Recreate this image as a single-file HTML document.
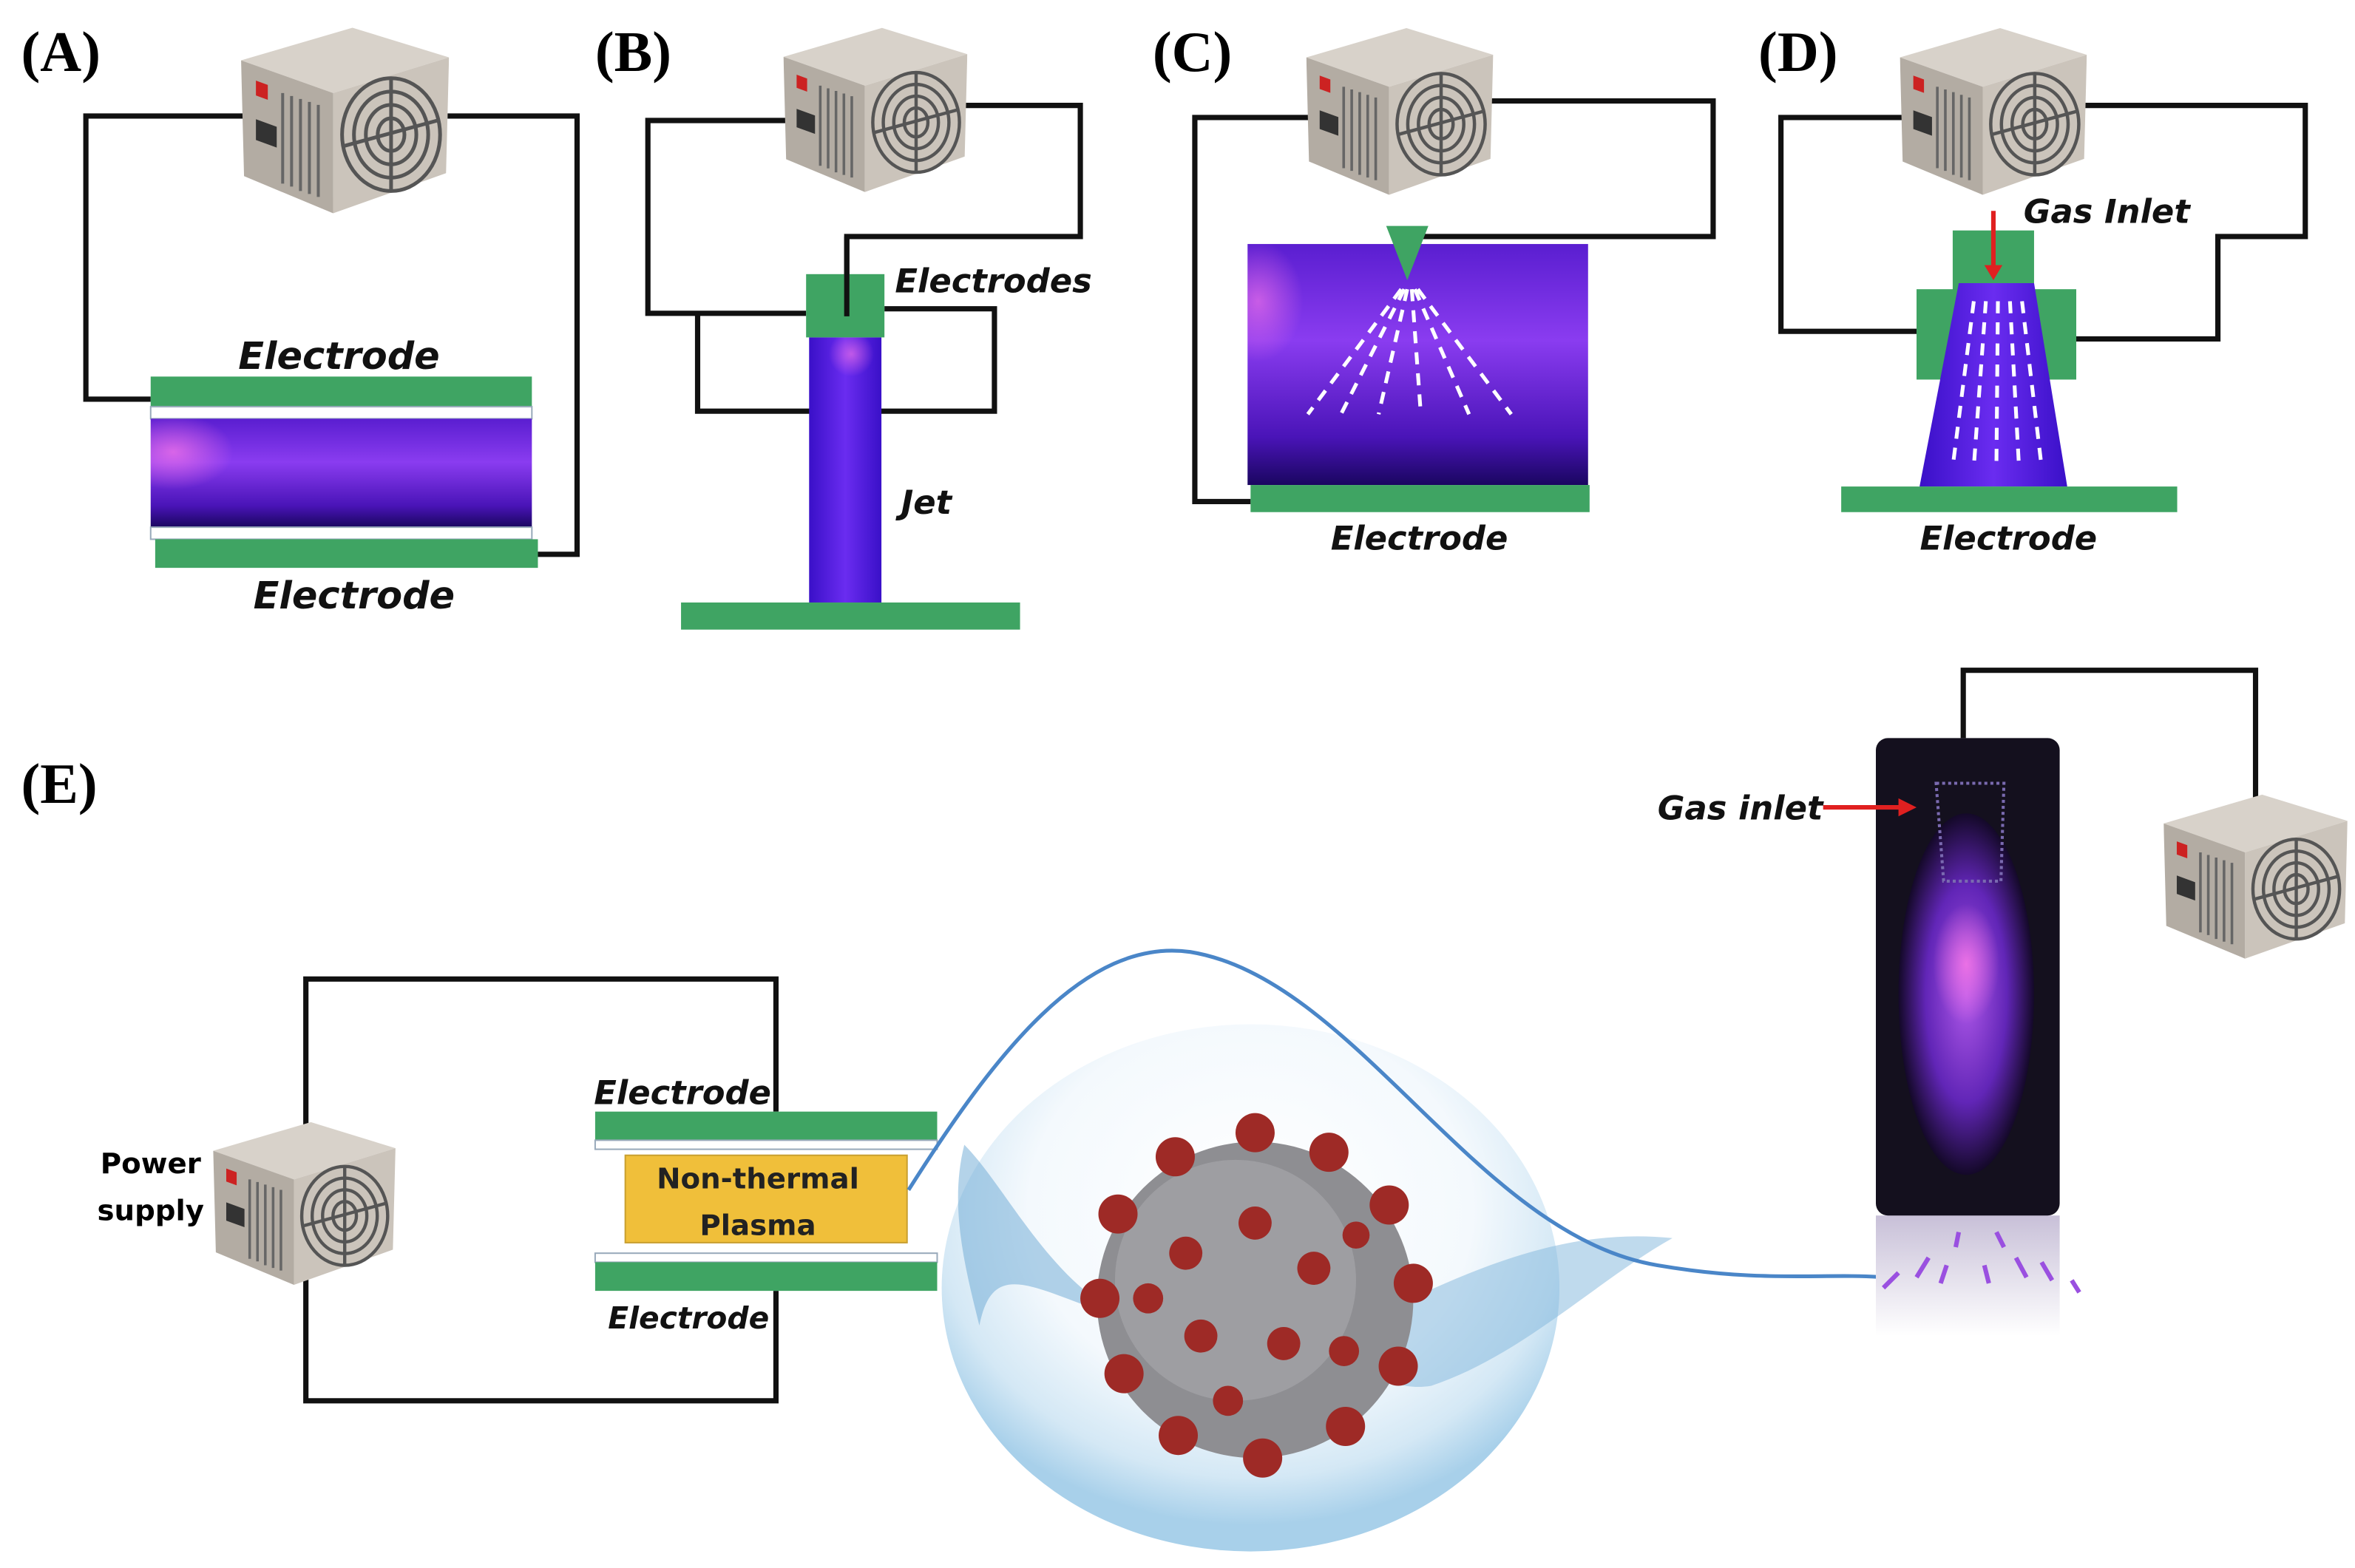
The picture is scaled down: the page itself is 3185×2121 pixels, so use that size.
<!DOCTYPE html>
<html><head><meta charset="utf-8"><style>
html,body{margin:0;padding:0;background:#fff}
svg{display:block}
.lab{font-family:"Liberation Serif",serif;font-weight:bold;font-size:38px}
.t{font-family:"DejaVu Sans","Liberation Sans",sans-serif;font-weight:bold;font-style:italic;fill:#111}
</style></head><body>
<svg width="3185" height="2121" viewBox="0 0 1563 1041" preserveAspectRatio="none" xmlns="http://www.w3.org/2000/svg">
<defs>
<symbol id="psu" viewBox="0 0 140 125">
<polygon points="0,22 75,0 140,20 62,44" fill="#d8d2ca"/>
<polygon points="0,22 62,44 62,125 2,100" fill="#b3aca3"/>
<polygon points="62,44 140,20 138,98 62,125" fill="#cbc4bb"/>
<rect x="10" y="32" width="8" height="10" fill="#c22" transform="skewY(20)"/>
<rect x="10" y="68" width="14" height="14" fill="#333" transform="skewY(20) translate(0,-10)"/>
<g stroke="#666" stroke-width="2">
<line x1="28" y1="44" x2="28" y2="105"/><line x1="34" y1="46" x2="34" y2="107"/><line x1="40" y1="48" x2="40" y2="110"/><line x1="46" y1="50" x2="46" y2="112"/><line x1="52" y1="52" x2="52" y2="114"/>
</g>
<g fill="none" stroke="#555" stroke-width="2.5">
<ellipse cx="101" cy="72" rx="33" ry="38"/><ellipse cx="101" cy="72" rx="25" ry="29"/><ellipse cx="101" cy="72" rx="17" ry="20"/><ellipse cx="101" cy="72" rx="9" ry="11"/>
<line x1="68" y1="80" x2="134" y2="62"/><line x1="101" y1="34" x2="101" y2="110"/>
</g>
</symbol>
<linearGradient id="pl" x1="0" y1="0" x2="0" y2="1">
<stop offset="0" stop-color="#5a1ed0"/><stop offset=".4" stop-color="#8a3cf0"/><stop offset=".8" stop-color="#4a14b8"/><stop offset="1" stop-color="#1a0660"/></linearGradient>
<linearGradient id="plh" x1="0" y1="0" x2="1" y2="0">
<stop offset="0" stop-color="#3a10c8"/><stop offset=".5" stop-color="#6a2cf0"/><stop offset="1" stop-color="#3a10c8"/></linearGradient>
<radialGradient id="glow" cx=".5" cy=".5" r=".5"><stop offset="0" stop-color="#ff7ae8"/><stop offset="1" stop-color="#ff7ae8" stop-opacity="0"/></radialGradient>
<radialGradient id="bub" cx=".5" cy=".35" r=".6"><stop offset="0" stop-color="#fff"/><stop offset=".6" stop-color="#f4f9fd"/><stop offset=".85" stop-color="#d4e8f5"/><stop offset="1" stop-color="#a8d0ea"/></radialGradient>
<radialGradient id="jetg" cx=".5" cy=".5" r=".5"><stop offset="0" stop-color="#c060ff"/><stop offset=".6" stop-color="#6a28c8"/><stop offset="1" stop-color="#14082a"/></radialGradient>
<linearGradient id="refl" x1="0" y1="0" x2="0" y2="1"><stop offset="0" stop-color="#c8c0d8"/><stop offset="1" stop-color="#fff"/></linearGradient>
<clipPath id="cA"><rect x="100" y="278" width="253" height="72"/></clipPath>
<clipPath id="cC"><rect x="828" y="162" width="226" height="160"/></clipPath>
</defs>
<rect width="1563" height="1041" fill="#fff"/>
<g fill="none" stroke="#111" stroke-width="3.5">
<polyline points="165,77 57,77 57,265 100,265"/>
<polyline points="297,77 383,77 383,368 357,368"/>
<polyline points="525,80 430,80 430,208 535,208"/>
<polyline points="463,208 463,273 660,273 660,205 587,205"/>
<polyline points="640,70 717,70 717,157 562,157 562,210"/>
<polyline points="872,78 793,78 793,333 830,333"/>
<polyline points="990,67 1137,67 1137,157 940,157 940,162"/>
<polyline points="1265,78 1182,78 1182,220 1272,220"/>
<polyline points="1383,70 1530,70 1530,157 1472,157 1472,225 1378,225"/>
<polyline points="203,748 203,650 515,650 515,738"/>
<polyline points="203,845 203,930 515,930 515,857"/>
<polyline points="1303,490 1303,445 1497,445 1497,532"/>
</g>
<text class="lab" x="14" y="47">(A)</text>
<text class="lab" x="395" y="47">(B)</text>
<text class="lab" x="765" y="47">(C)</text>
<text class="lab" x="1167" y="47">(D)</text>
<text class="lab" x="14" y="533">(E)</text>
<use href="#psu" x="160" y="18" width="138" height="124"/>
<use href="#psu" x="520" y="18" width="122" height="110"/>
<use href="#psu" x="867" y="18" width="124" height="112"/>
<use href="#psu" x="1261" y="18" width="124" height="112"/>
<use href="#psu" x="140" y="745" width="124" height="108"/>
<use href="#psu" x="1436" y="527" width="122" height="110"/>
<!-- A -->
<rect x="100" y="250" width="253" height="20" fill="#3fa463"/>
<rect x="100" y="270" width="253" height="8" fill="#fff" stroke="#9ab" stroke-width="1"/>
<rect x="100" y="278" width="253" height="72" fill="url(#pl)"/>
<ellipse cx="115" cy="300" rx="40" ry="25" fill="url(#glow)" opacity=".7" clip-path="url(#cA)"/>
<rect x="100" y="350" width="253" height="8" fill="#fff" stroke="#9ab" stroke-width="1"/>
<rect x="103" y="358" width="254" height="19" fill="#3fa463"/>
<text class="t" x="225" y="245" font-size="25" text-anchor="middle">Electrode</text>
<text class="t" x="235" y="404" font-size="25" text-anchor="middle">Electrode</text>
<!-- B -->
<rect x="537" y="224" width="48" height="176" fill="url(#plh)"/>
<ellipse cx="565" cy="235" rx="15" ry="15" fill="url(#glow)" opacity=".6"/>
<rect x="535" y="182" width="52" height="42" fill="#3fa463"/>
<line x1="562" y1="157" x2="562" y2="210" stroke="#111" stroke-width="3.5"/>
<rect x="452" y="400" width="225" height="18" fill="#3fa463"/>
<text class="t" x="594" y="194" font-size="22">Electrodes</text>
<text class="t" x="598" y="341" font-size="22">Jet</text>
<!-- C -->
<rect x="828" y="162" width="226" height="160" fill="url(#pl)"/>
<ellipse cx="835" cy="200" rx="30" ry="40" fill="url(#glow)" opacity=".6" clip-path="url(#cC)"/>
<polygon points="920,150 948,150 934,186" fill="#3fa463"/>
<g stroke="#fff" stroke-width="2.5" stroke-dasharray="8,6">
<line x1="930" y1="192" x2="868" y2="275"/><line x1="932" y1="192" x2="890" y2="275"/><line x1="934" y1="192" x2="915" y2="275"/><line x1="937" y1="192" x2="943" y2="275"/><line x1="939" y1="192" x2="975" y2="275"/><line x1="941" y1="192" x2="1003" y2="275"/>
</g>
<rect x="830" y="322" width="225" height="18" fill="#3fa463"/>
<text class="t" x="942" y="365" font-size="22" text-anchor="middle">Electrode</text>
<!-- D -->
<rect x="1296" y="153" width="54" height="40" fill="#3fa463"/>
<rect x="1272" y="192" width="106" height="60" fill="#3fa463"/>
<polygon points="1300,188 1350,188 1372,323 1274,323" fill="url(#plh)"/>
<g stroke="#fff" stroke-width="2.5" stroke-dasharray="8,6">
<line x1="1310" y1="200" x2="1296" y2="310"/><line x1="1318" y1="200" x2="1310" y2="310"/><line x1="1326" y1="200" x2="1325" y2="310"/><line x1="1334" y1="200" x2="1340" y2="310"/><line x1="1342" y1="200" x2="1355" y2="310"/>
</g>
<line x1="1323" y1="140" x2="1323" y2="178" stroke="#e02020" stroke-width="3"/>
<polygon points="1317,176 1329,176 1323,186" fill="#e02020"/>
<rect x="1222" y="323" width="223" height="17" fill="#3fa463"/>
<text class="t" x="1343" y="148" font-size="22">Gas Inlet</text>
<text class="t" x="1333" y="365" font-size="22" text-anchor="middle">Electrode</text>
<!-- E left -->
<text x="100" y="779" font-family="DejaVu Sans,sans-serif" font-weight="bold" font-size="19" text-anchor="middle">Power</text>
<text x="100" y="810" font-family="DejaVu Sans,sans-serif" font-weight="bold" font-size="19" text-anchor="middle">supply</text>
<rect x="395" y="738" width="227" height="19" fill="#3fa463"/>
<rect x="395" y="757" width="227" height="6" fill="#fff" stroke="#9ab" stroke-width="1"/>
<rect x="415" y="767" width="187" height="58" fill="#f0bf3a" stroke="#c9a030" stroke-width="1"/>
<rect x="395" y="832" width="227" height="6" fill="#fff" stroke="#9ab" stroke-width="1"/>
<rect x="395" y="838" width="227" height="19" fill="#3fa463"/>
<text class="t" x="453" y="733" font-size="22" text-anchor="middle">Electrode</text>
<text class="t" x="457" y="882" font-size="20" text-anchor="middle">Electrode</text>
<text x="503" y="789" font-family="DejaVu Sans,sans-serif" font-weight="bold" font-size="19" text-anchor="middle" fill="#222">Non-thermal</text>
<text x="503" y="820" font-family="DejaVu Sans,sans-serif" font-weight="bold" font-size="19" text-anchor="middle" fill="#222">Plasma</text>
<!-- bubble + virus -->
<ellipse cx="830" cy="855" rx="205" ry="175" fill="url(#bub)"/>
<path d="M640,760 C670,790 700,860 760,880 C690,860 660,830 650,880 C640,840 630,800 640,760Z" fill="#6aa8d4" opacity=".5"/>
<path d="M900,880 C980,840 1040,815 1110,822 C1060,850 1010,900 950,920 C920,925 905,905 900,880Z" fill="#7fb6dc" opacity=".5"/>
<circle cx="833" cy="863" r="105" fill="#8e8e92"/>
<circle cx="820" cy="850" r="80" fill="#a5a5aa" opacity=".7"/>
<g fill="#9e2a26">
<circle cx="833" cy="752" r="13"/><circle cx="882" cy="765" r="13"/><circle cx="922" cy="800" r="13"/><circle cx="938" cy="852" r="13"/><circle cx="928" cy="907" r="13"/><circle cx="893" cy="947" r="13"/><circle cx="838" cy="968" r="13"/><circle cx="782" cy="953" r="13"/><circle cx="746" cy="912" r="13"/><circle cx="730" cy="862" r="13"/><circle cx="742" cy="806" r="13"/><circle cx="780" cy="768" r="13"/>
<circle cx="833" cy="812" r="11"/><circle cx="872" cy="842" r="11"/><circle cx="852" cy="892" r="11"/><circle cx="797" cy="887" r="11"/><circle cx="787" cy="832" r="11"/><circle cx="892" cy="897" r="10"/><circle cx="762" cy="862" r="10"/><circle cx="815" cy="930" r="10"/><circle cx="900" cy="820" r="9"/>
</g>
<path d="M603,790 C660,700 720,622 790,632 C900,650 980,820 1100,840 C1170,852 1210,845 1250,848" fill="none" stroke="#4a86c8" stroke-width="2.5"/>
<!-- right jet -->
<rect x="1245" y="807" width="122" height="80" fill="url(#refl)"/>
<rect x="1245" y="490" width="122" height="317" rx="8" fill="#14101e"/>
<ellipse cx="1305" cy="660" rx="45" ry="120" fill="url(#jetg)" opacity=".9"/>
<ellipse cx="1305" cy="640" rx="22" ry="40" fill="url(#glow)" opacity=".8"/>
<path d="M1285,520 L1330,520 L1328,585 L1290,585Z" fill="none" stroke="#7a6ab0" stroke-width="2" stroke-dasharray="2,2"/>
<g stroke="#9a50e0" stroke-width="3">
<line x1="1260" y1="845" x2="1250" y2="855"/><line x1="1280" y1="835" x2="1272" y2="848"/><line x1="1292" y1="840" x2="1288" y2="852"/><line x1="1317" y1="840" x2="1320" y2="852"/><line x1="1338" y1="835" x2="1345" y2="848"/><line x1="1355" y1="838" x2="1362" y2="850"/><line x1="1375" y1="850" x2="1380" y2="858"/><line x1="1300" y1="818" x2="1298" y2="828"/><line x1="1325" y1="818" x2="1330" y2="828"/>
</g>
<line x1="1210" y1="536" x2="1262" y2="536" stroke="#e02020" stroke-width="3"/>
<polygon points="1260,530 1272,536 1260,542" fill="#e02020"/>
<text class="t" x="1155" y="544" font-size="22" text-anchor="middle">Gas inlet</text>
</svg>
</body></html>
